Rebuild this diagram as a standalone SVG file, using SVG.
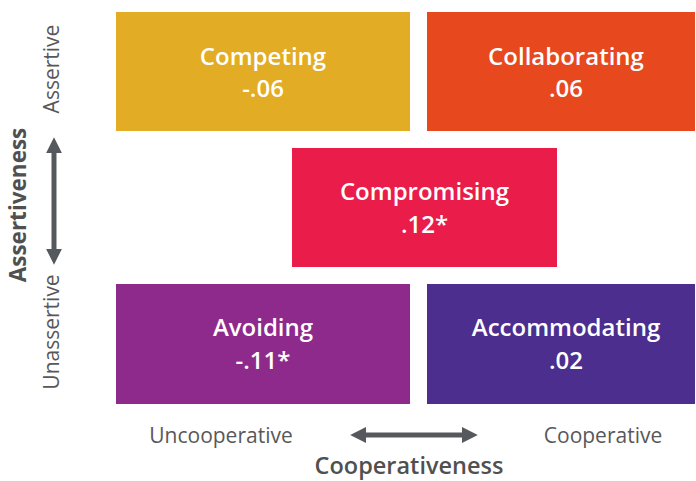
<svg xmlns="http://www.w3.org/2000/svg" width="696" height="481" viewBox="0 0 696 481">
  <style>
    .box-label { font-family: "Open Sans", "Liberation Sans", sans-serif; font-weight: 600; font-size: 24px; fill: #ffffff; text-anchor: middle; }
    .pole { font-family: "Open Sans", "Liberation Sans", sans-serif; font-weight: 400; font-size: 21px; fill: #58585a; text-anchor: middle; }
    .axis-title { font-family: "Open Sans", "Liberation Sans", sans-serif; font-weight: 700; font-size: 22.5px; fill: #505050; text-anchor: middle; }
    .axis-title.h { font-weight: 600; font-size: 23.5px; }
    .axis-line { stroke: #55585c; stroke-width: 5; fill: none; }
  </style>
  <defs>
    <marker id="head" viewBox="0 0 10 10" refX="2" refY="5" markerWidth="3.2" markerHeight="3.3" orient="auto-start-reverse" markerUnits="strokeWidth">
      <path d="M0,0 L10,5 L0,10 Z" fill="#55585c"/>
    </marker>
  </defs>
  <rect width="696" height="481" fill="#ffffff"/>

  <g id="competing">
    <rect x="116" y="12" width="294" height="119" fill="#E2AC24"/>
    <text class="box-label" x="263" y="65">Competing</text>
    <text class="box-label" x="263" y="97">-.06</text>
  </g>
  <g id="collaborating">
    <rect x="427" y="12" width="268" height="119" fill="#E8481E"/>
    <text class="box-label" x="566" y="65">Collaborating</text>
    <text class="box-label" x="566" y="97">.06</text>
  </g>
  <g id="compromising">
    <rect x="292" y="148" width="265" height="119" fill="#E91C4A"/>
    <text class="box-label" x="424.5" y="200">Compromising</text>
    <text class="box-label" x="424.5" y="233">.12*</text>
  </g>
  <g id="avoiding">
    <rect x="116" y="284" width="294" height="120" fill="#8E2A8C"/>
    <text class="box-label" x="263" y="336">Avoiding</text>
    <text class="box-label" x="263" y="369">-.11*</text>
  </g>
  <g id="accommodating">
    <rect x="427" y="284" width="268" height="120" fill="#4B2E8E"/>
    <text class="box-label" x="566" y="336">Accommodating</text>
    <text class="box-label" x="566" y="369">.02</text>
  </g>

  <g id="connectors">
    <line class="axis-line" x1="54" y1="150" x2="54" y2="252" marker-start="url(#head)" marker-end="url(#head)"/>
    <line class="axis-line" x1="363" y1="435" x2="465" y2="435" marker-start="url(#head)" marker-end="url(#head)"/>
  </g>

  <g id="assertiveness-axis">
    <text class="pole" transform="translate(59,69) rotate(-90)">Assertive</text>
    <text class="pole" transform="translate(59,332) rotate(-90)">Unassertive</text>
    <text class="axis-title" transform="translate(26,205) rotate(-90)">Assertiveness</text>
  </g>
  <g id="cooperativeness-axis">
    <text class="pole" x="221" y="443">Uncooperative</text>
    <text class="pole" x="603" y="443">Cooperative</text>
    <text class="axis-title h" x="409" y="474">Cooperativeness</text>
  </g>
</svg>
